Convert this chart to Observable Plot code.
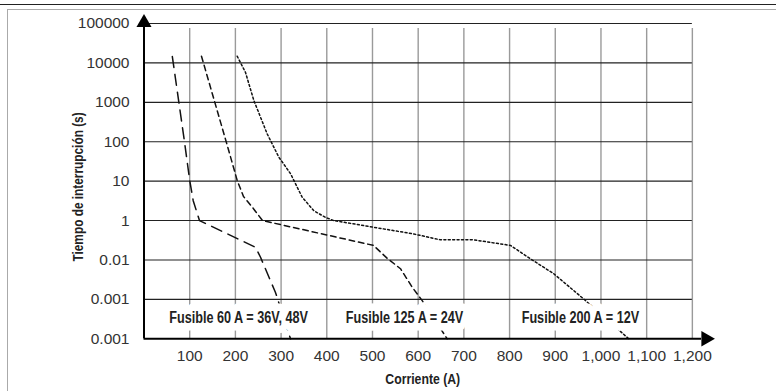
<!DOCTYPE html>
<html>
<head>
<meta charset="utf-8">
<script src="https://cdn.jsdelivr.net/npm/d3@7"></script>
<script src="https://cdn.jsdelivr.net/npm/@observablehq/plot@0.6"></script>
<style>
  html, body { margin: 0; padding: 0; background: white; }
  #wrap { position: relative; width: 776px; height: 391px; overflow: hidden; }
  #topline { position: absolute; left: 0; top: 3.5px; width: 776px; border-top: 1.5px solid #222; }
  #box { position: absolute; left: 6.5px; top: 8.5px; width: 780px; height: 400px; border-top: 1.5px solid #aaa; border-left: 1.5px solid #aaa; }
  #chart { position: absolute; left: 0; top: 0; }
</style>
</head>
<body>
<div id="wrap">
  <div id="chart"></div>
  <div id="topline"></div>
  <div id="box"></div>
</div>
<script>
// ---- data ----
const xTicks = [100, 200, 300, 400, 500, 600, 700, 800, 900, 1000, 1100, 1200];
const xTickLabels = ["100", "200", "300", "400", "500", "600", "700", "800", "900", "1,000", "1,100", "1,200"];
const yTicks = [1e-3, 1e-2, 1e-1, 1, 10, 100, 1000, 10000, 100000];
const yTickLabels = ["0.001", "0.001", "0.01", "1", "10", "100", "1000", "10000", "100000"];

// Fusible 60 A (long dashes)
const f60Current = [62, 88.6, 100, 107.7, 121.4, 244, 255, 287.7, 320.6];
const f60Time = [14500, 100, 10.5, 3.2, 1.0, 0.21, 0.117, 0.015, 0.001];
// Fusible 125 A (medium dashes)
const f125Current = [125.8, 179.9, 203.9, 217.7, 239.6, 259.3, 502.2, 532.2, 561.3, 586.9, 608.8, 663.5];
const f125Time = [14800, 100, 10.5, 4.1, 2.0, 1.0, 0.234, 0.11, 0.06, 0.0204, 0.0093, 0.001];
// Fusible 200 A (dotted)
const f200Current = [203.9, 222.1, 240.3, 269.6, 295.0, 320.6, 346.2, 371.6, 397.2, 415.3, 502.8, 590.4, 648.8, 721.7, 802, 845.7, 896.7, 962.4, 1060.8];
const f200Time = [14800, 5750, 1120, 158, 40.7, 15.5, 3.9, 1.78, 1.2, 1.0, 0.676, 0.457, 0.324, 0.324, 0.234, 0.107, 0.0447, 0.0102, 0.001];

const labelTexts = ["Fusible 60 A = 36V, 48V", "Fusible 125 A = 24V", "Fusible 200 A = 12V"];
const labelCurrent = [207, 570, 955];
const labelTime = [0.0033, 0.0033, 0.0033];

const xTitle = "Corriente (A)";
const yTitle = "Tiempo de interrupción (s)";

// ---- build ----
const xDomain = [0, 1220];
const yDomain = [1e-3, 1e5];
const series = [
  {name: "60", xs: f60Current, ys: f60Time, dash: "11,7"},
  {name: "125", xs: f125Current, ys: f125Time, dash: "5.5,4"},
  {name: "200", xs: f200Current, ys: f200Time, dash: "2,2.4"}
];
const labels = labelTexts.map((t, i) => ({t, x: labelCurrent[i], y: labelTime[i]}));
const xLabelMap = new Map(xTicks.map((d, i) => [d, xTickLabels[i]]));
const yLabelMap = new Map(yTicks.map((d, i) => [d, yTickLabels[i]]));

const numFont = "'Liberation Sans', Arial, Helvetica, sans-serif";
const boldFont = "'Liberation Sans', Arial, sans-serif";
const condense = 0.79; // emulate a condensed bold face

const marks = [
  Plot.ruleX(xTicks, {x: d => d, y1: () => yDomain[0], y2: () => yDomain[1], stroke: "#9a9a9a", strokeWidth: 1.4, insetBottom: -5}),
  Plot.ruleY(yTicks.slice(1), {y: d => d, x1: () => 0, x2: () => 1200, stroke: "#222", strokeWidth: 1.1})
];
for (const s of series) {
  const data = s.xs.map((x, i) => ({x, y: s.ys[i]}));
  marks.push(Plot.line(data, {x: "x", y: "y", stroke: "#111", strokeWidth: 1.5, strokeDasharray: s.dash}));
}
marks.push(
  Plot.text(labels, {x: "x", y: "y", text: "t", fontFamily: boldFont, fontWeight: "bold", fontSize: 16,
    fill: "#222", stroke: "white", strokeWidth: 15, strokeLinejoin: "round"}),
  Plot.ruleY([yDomain[0]], {y: d => d, x1: () => xDomain[0], x2: () => xDomain[1], stroke: "black", strokeWidth: 2}),
  Plot.ruleX([0], {x: d => d, y1: () => yDomain[0], y2: () => yDomain[1], stroke: "black", strokeWidth: 2}),
  Plot.dot([yDomain[1]], {x: () => 0, y: d => d, symbol: "triangle", r: 5.6, fill: "black", stroke: null, dy: -0.8}),
  Plot.dot([xDomain[1]], {x: d => d, y: () => yDomain[0], symbol: "triangle", r: 5.8, fill: "black", stroke: null, rotate: 90, dx: 4.4}),
  Plot.text(xTicks, {x: d => d, y: () => yDomain[0], text: d => xLabelMap.get(d), dy: 17.5, fontSize: 15.5, fontFamily: numFont, fill: "#333"}),
  Plot.text(yTicks, {x: () => 0, y: d => d, text: d => yLabelMap.get(d), dx: -14.5, textAnchor: "end", fontSize: 15.5, fontFamily: numFont, fill: "#333"}),
  Plot.text([xTitle], {frameAnchor: "bottom", text: d => d, dy: 44.7, fontFamily: boldFont, fontWeight: "bold", fontSize: 15.5, fill: "#222"}),
  Plot.text([yTitle], {frameAnchor: "left", textAnchor: "middle", text: d => d, rotate: -90, dx: -66, dy: 5.8, fontFamily: boldFont, fontWeight: "bold", fontSize: 15, fill: "#222"})
);

const chart = Plot.plot({
  width: 776,
  height: 391,
  marginLeft: 143.5,
  marginRight: 75,
  marginTop: 23,
  marginBottom: 52.7,
  x: {domain: xDomain, axis: null},
  y: {type: "log", domain: yDomain, axis: null},
  style: {background: "transparent", overflow: "visible"},
  marks
});
document.getElementById("chart").appendChild(chart);
// condense bold texts horizontally
chart.querySelectorAll('g[font-weight="bold"] text').forEach(t => {
  const w = t.getComputedTextLength();
  t.setAttribute("textLength", (w * condense).toFixed(1));
  t.setAttribute("lengthAdjust", "spacingAndGlyphs");
});
</script>
</body>
</html>
